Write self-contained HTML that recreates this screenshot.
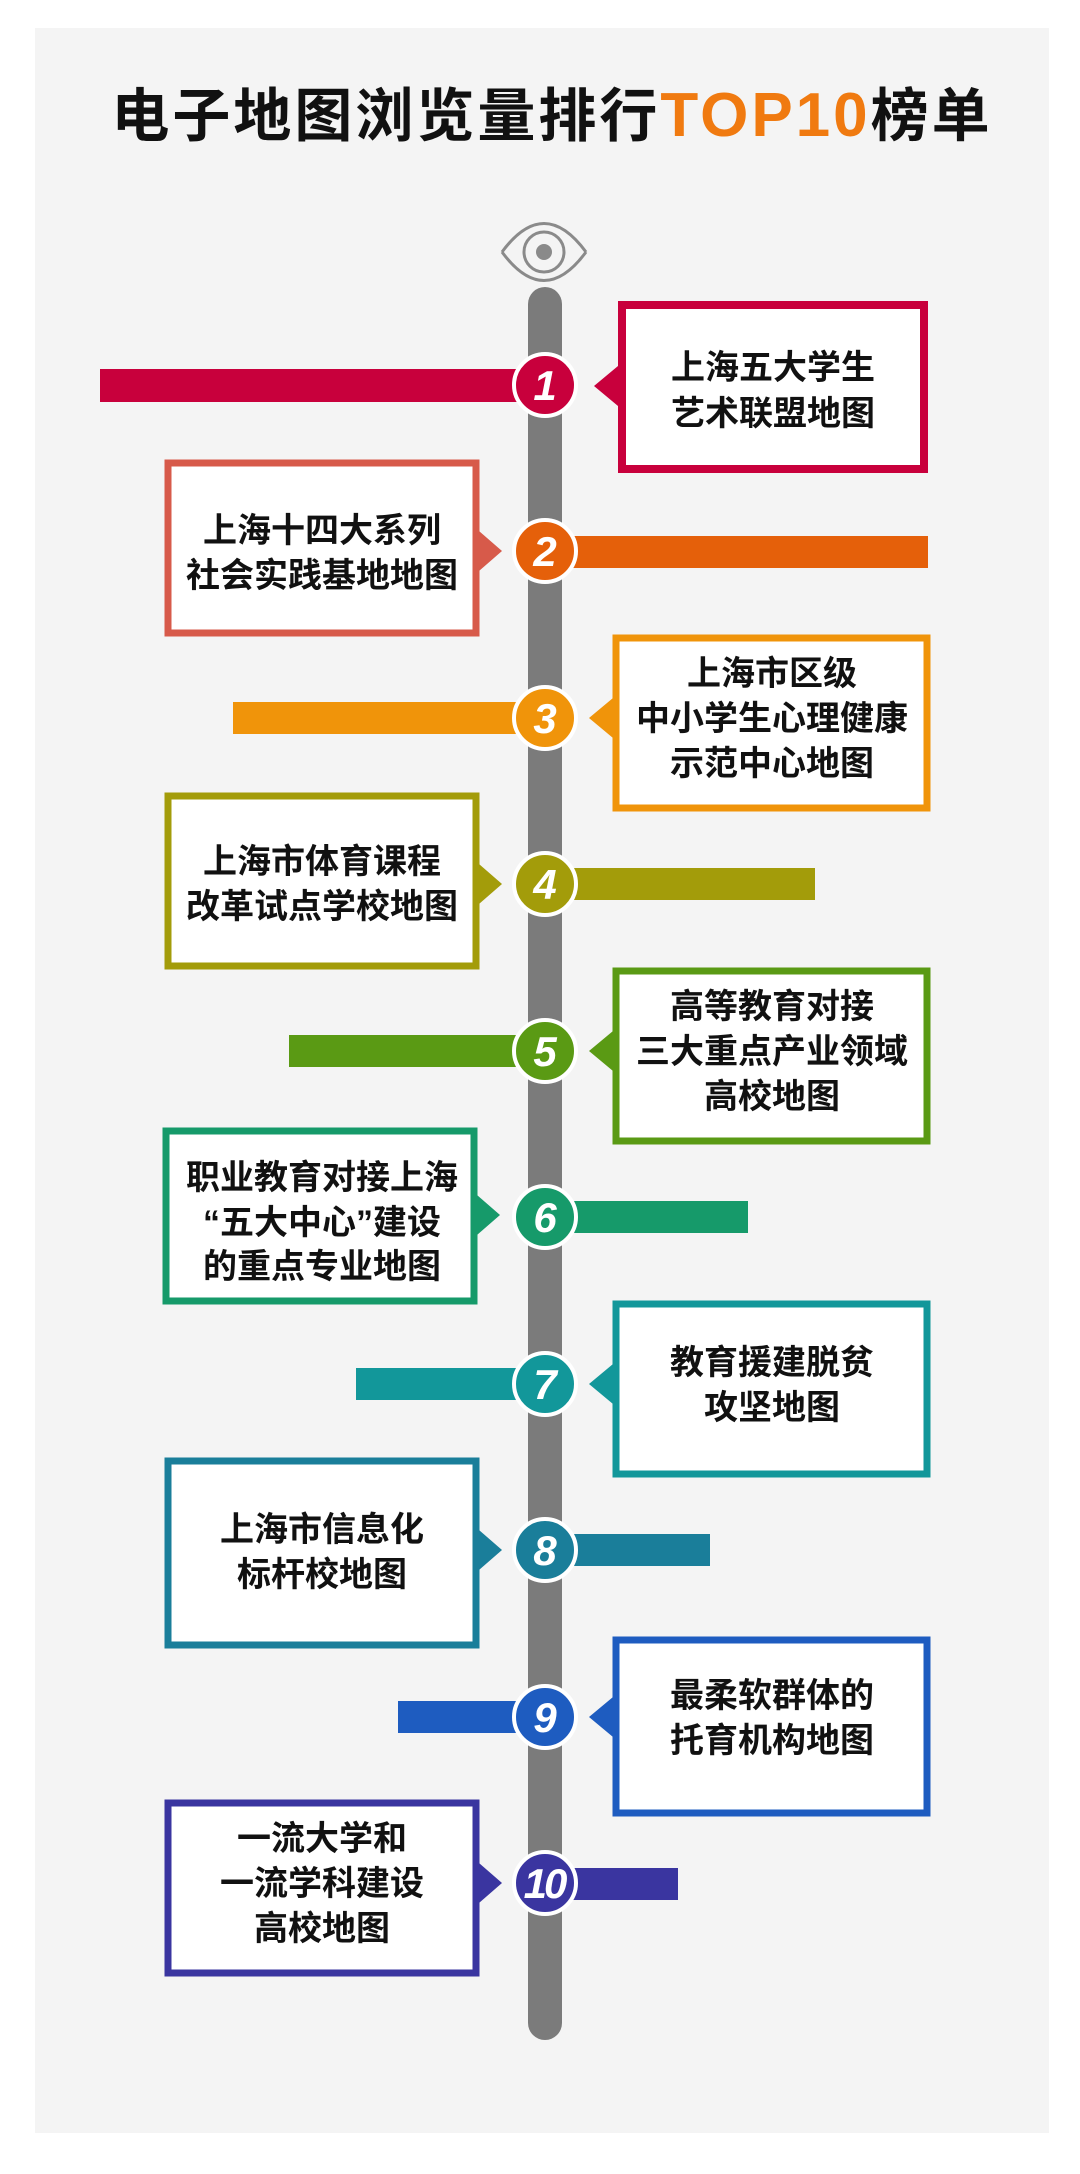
<!DOCTYPE html>
<html><head><meta charset="utf-8"><style>
html,body{margin:0;padding:0;background:#fff;}
svg{display:block;}
text{font-family:"Liberation Sans","Noto Sans CJK SC",sans-serif;}
</style></head><body>
<svg width="1080" height="2174" viewBox="0 0 1080 2174" xmlns="http://www.w3.org/2000/svg">
<rect x="35" y="28" width="1014" height="2105" fill="#f4f4f4"/>
<text x="552" y="136" text-anchor="middle" font-size="58" font-weight="bold" letter-spacing="3" fill="#111" style="font-family:'Noto Sans CJK SC',sans-serif">电子地图浏览量排行<tspan fill="#f07a10" style="font-family:'Liberation Sans',sans-serif" font-size="62">TOP10</tspan>榜单</text>
<!-- eye -->
<g fill="none" stroke="#8a8a8a" stroke-width="3">
<path d="M502 252 Q544 195 586 252"/>
<path d="M502 252 Q544 309 586 252"/>
<circle cx="544" cy="252" r="20"/>
</g>
<circle cx="544" cy="252" r="8" fill="#8a8a8a"/>
<rect x="528" y="287" width="34" height="1753" rx="17" fill="#7b7b7b"/>
<g font-size="34" font-weight="bold" fill="#111" text-anchor="middle" style="font-family:'Noto Sans CJK SC',sans-serif">
<!-- 1 -->
<rect x="100" y="369" width="447" height="33" fill="#c8003c"/>
<rect x="622" y="305" width="302" height="164" fill="#fff" stroke="#c8003c" stroke-width="8"/>
<polygon points="594,386 618,366 618,406" fill="#c8003c"/>
<text x="773" y="379">上海五大学生</text><text x="773" y="425">艺术联盟地图</text>
<!-- 2 -->
<rect x="547" y="536" width="381" height="32" fill="#e5600a"/>
<rect x="168" y="463" width="308" height="170" fill="#fff" stroke="#d75a4a" stroke-width="7"/>
<polygon points="502,551 479,531 479,571" fill="#d75a4a"/>
<text x="322" y="542">上海十四大系列</text><text x="322" y="587">社会实践基地地图</text>
<!-- 3 -->
<rect x="233" y="702" width="314" height="32" fill="#f0940a"/>
<rect x="616" y="638" width="311" height="170" fill="#fff" stroke="#f0940a" stroke-width="7"/>
<polygon points="589,718 613,698 613,738" fill="#f0940a"/>
<text x="772" y="685">上海市区级</text><text x="772" y="730">中小学生心理健康</text><text x="772" y="775">示范中心地图</text>
<!-- 4 -->
<rect x="547" y="868" width="268" height="32" fill="#a39c0a"/>
<rect x="168" y="796" width="308" height="170" fill="#fff" stroke="#a39c0a" stroke-width="7"/>
<polygon points="502,884 479,864 479,904" fill="#a39c0a"/>
<text x="322" y="873">上海市体育课程</text><text x="322" y="918">改革试点学校地图</text>
<!-- 5 -->
<rect x="289" y="1035" width="258" height="32" fill="#5a9a14"/>
<rect x="616" y="971" width="311" height="170" fill="#fff" stroke="#5a9a14" stroke-width="7"/>
<polygon points="589,1051 613,1031 613,1071" fill="#5a9a14"/>
<text x="772" y="1018">高等教育对接</text><text x="772" y="1063">三大重点产业领域</text><text x="772" y="1108">高校地图</text>
<!-- 6 -->
<rect x="547" y="1201" width="201" height="32" fill="#169a6a"/>
<rect x="166" y="1131" width="308" height="170" fill="#fff" stroke="#169a6a" stroke-width="7"/>
<polygon points="500,1215 477,1195 477,1235" fill="#169a6a"/>
<text x="322" y="1189">职业教育对接上海</text><text x="322" y="1234">“五大中心”建设</text><text x="322" y="1278">的重点专业地图</text>
<!-- 7 -->
<rect x="356" y="1368" width="191" height="32" fill="#12979a"/>
<rect x="616" y="1304" width="311" height="170" fill="#fff" stroke="#12979a" stroke-width="7"/>
<polygon points="589,1384 613,1364 613,1404" fill="#12979a"/>
<text x="772" y="1374">教育援建脱贫</text><text x="772" y="1419">攻坚地图</text>
<!-- 8 -->
<rect x="547" y="1534" width="163" height="32" fill="#1a7e9a"/>
<rect x="168" y="1461" width="308" height="184" fill="#fff" stroke="#1a7e9a" stroke-width="7"/>
<polygon points="502,1550 479,1530 479,1570" fill="#1a7e9a"/>
<text x="322" y="1541">上海市信息化</text><text x="322" y="1586">标杆校地图</text>
<!-- 9 -->
<rect x="398" y="1701" width="149" height="32" fill="#1e5cc0"/>
<rect x="616" y="1640" width="311" height="173" fill="#fff" stroke="#1e5cc0" stroke-width="7"/>
<polygon points="589,1717 613,1697 613,1737" fill="#1e5cc0"/>
<text x="772" y="1707">最柔软群体的</text><text x="772" y="1752">托育机构地图</text>
<!-- 10 -->
<rect x="547" y="1868" width="131" height="32" fill="#3a35a0"/>
<rect x="168" y="1803" width="308" height="170" fill="#fff" stroke="#3a35a0" stroke-width="7"/>
<polygon points="502,1883 479,1863 479,1903" fill="#3a35a0"/>
<text x="322" y="1850">一流大学和</text><text x="322" y="1895">一流学科建设</text><text x="322" y="1940">高校地图</text>
</g>
<g stroke="#fff" stroke-width="4">
<circle cx="545" cy="385" r="31" fill="#c8003c"/>
<circle cx="545" cy="551" r="31" fill="#e5600a"/>
<circle cx="545" cy="718" r="31" fill="#f0940a"/>
<circle cx="545" cy="884" r="31" fill="#a39c0a"/>
<circle cx="545" cy="1051" r="31" fill="#5a9a14"/>
<circle cx="545" cy="1217" r="31" fill="#169a6a"/>
<circle cx="545" cy="1384" r="31" fill="#12979a"/>
<circle cx="545" cy="1550" r="31" fill="#1a7e9a"/>
<circle cx="545" cy="1717" r="31" fill="#1e5cc0"/>
<circle cx="545" cy="1883" r="31" fill="#3a35a0"/>
</g>
<g fill="#fff" font-size="42" font-weight="bold" font-style="italic" text-anchor="middle">
<text x="545" y="400">1</text><text x="545" y="566">2</text><text x="545" y="733">3</text>
<text x="545" y="899">4</text><text x="545" y="1066">5</text><text x="545" y="1232">6</text>
<text x="545" y="1399">7</text><text x="545" y="1565">8</text><text x="545" y="1732">9</text>
<text x="544" y="1898" letter-spacing="-3">10</text>
</g>
</svg>
</body></html>
